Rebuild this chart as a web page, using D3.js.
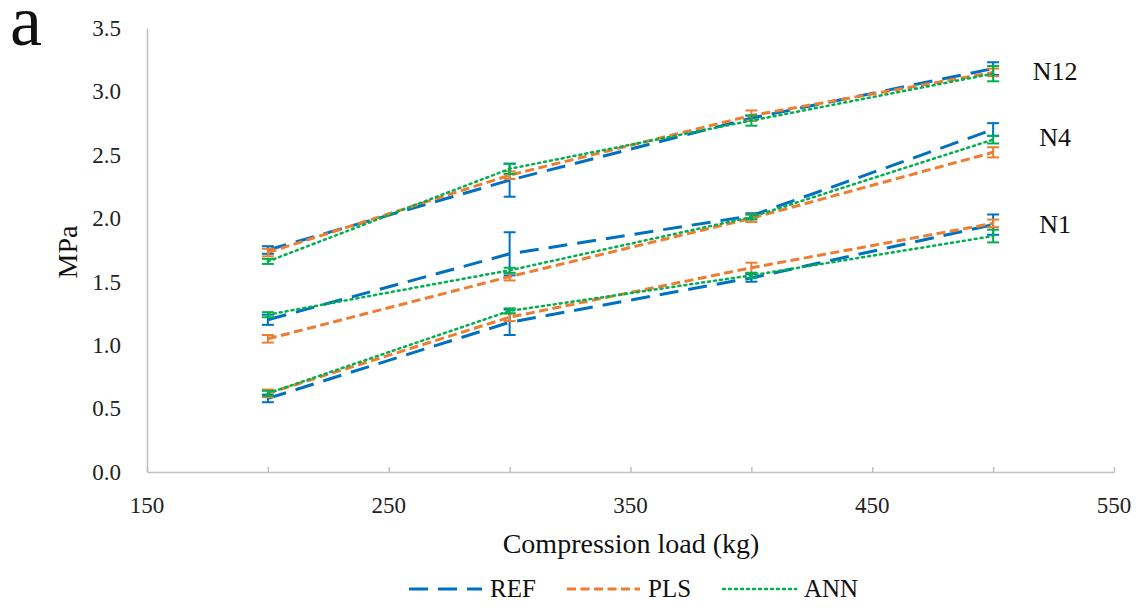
<!DOCTYPE html>
<html>
<head>
<meta charset="utf-8">
<script src="https://cdn.jsdelivr.net/npm/d3@7"></script>
<style>
  body { margin: 0; background: #fff; }
  svg text { font-family: "Liberation Serif", "DejaVu Serif", "Times New Roman", serif; }
</style>
</head>
<body>
<div id="chart"></div>
<script>
var width = 1141;
var height = 608;
var serif = "Liberation Serif, DejaVu Serif, serif";

// data
var loads = [200, 300, 400, 500];
var groups = ["N1", "N4", "N12"];
var xTicks = [150, 250, 350, 450, 550];
var yTicks = [0, 0.5, 1.0, 1.5, 2.0, 2.5, 3.0, 3.5];

var refN1 = [0.58, 1.18, 1.53, 1.95];
var refN1Err = [0.03, 0.10, 0.03, 0.08];
var plsN1 = [0.62, 1.22, 1.61, 1.96];
var plsN1Err = [0.03, 0.03, 0.04, 0.03];
var annN1 = [0.62, 1.27, 1.55, 1.86];
var annN1Err = [0.02, 0.02, 0.02, 0.05];

var refN4 = [1.20, 1.72, 2.02, 2.70];
var refN4Err = [0.04, 0.17, 0.02, 0.05];
var plsN4 = [1.05, 1.54, 2.00, 2.52];
var plsN4Err = [0.03, 0.03, 0.03, 0.04];
var annN4 = [1.24, 1.59, 2.01, 2.62];
var annN4Err = [0.02, 0.02, 0.02, 0.03];

var refN12 = [1.75, 2.30, 2.79, 3.18];
var refN12Err = [0.03, 0.13, 0.02, 0.05];
var plsN12 = [1.73, 2.34, 2.81, 3.15];
var plsN12Err = [0.03, 0.03, 0.04, 0.03];
var annN12 = [1.66, 2.39, 2.77, 3.14];
var annN12Err = [0.02, 0.04, 0.04, 0.06];

var groupLabelY = [1.95, 2.63, 3.15];

var models = [
    {name: "REF", color: "#0070C0", dash: "19,10", width: 3},
    {name: "PLS", color: "#ED7D31", dash: "9,4.5", width: 3},
    {name: "ANN", color: "#00B050", dash: "2,4", width: 2.5}
];

var seriesValues = {
    REF: [refN1, refN4, refN12],
    PLS: [plsN1, plsN4, plsN12],
    ANN: [annN1, annN4, annN12]
};
var seriesErrors = {
    REF: [refN1Err, refN4Err, refN12Err],
    PLS: [plsN1Err, plsN4Err, plsN12Err],
    ANN: [annN1Err, annN4Err, annN12Err]
};

var svg = d3.select("#chart").append("svg")
    .attr("width", width)
    .attr("height", height)
    .style("display", "block");

var xScale = d3.scaleLinear().domain([150, 550]).range([147, 1114]);
var yScale = d3.scaleLinear().domain([0, 3.5]).range([472, 28]);

// axes
var xAxis = d3.axisBottom(xScale)
    .tickValues(d3.range(150, 551, 50))
    .tickSizeInner(-5)
    .tickSizeOuter(0)
    .tickFormat("");
var gx = svg.append("g")
    .attr("transform", "translate(0," + yScale(0) + ")")
    .call(xAxis);
gx.select(".domain").attr("stroke", "#BFBFBF").attr("stroke-width", 1.5);
gx.selectAll(".tick line").attr("stroke", "#BFBFBF").attr("stroke-width", 1.5);

svg.append("g").selectAll("text")
    .data(xTicks).enter().append("text")
    .attr("x", function (d) { return xScale(d); })
    .attr("y", 513)
    .attr("text-anchor", "middle")
    .attr("font-family", serif)
    .attr("font-size", 23)
    .attr("fill", "#222")
    .text(function (d) { return d; });

var yAxis = d3.axisLeft(yScale)
    .tickValues(yTicks)
    .tickSize(0)
    .tickPadding(26)
    .tickFormat(d3.format(".1f"));
var gy = svg.append("g")
    .attr("transform", "translate(" + xScale(150) + ",0)")
    .attr("font-family", serif)
    .call(yAxis);
gy.select(".domain").attr("stroke", "#BFBFBF").attr("stroke-width", 1.5);
gy.selectAll(".tick text")
    .attr("font-family", serif)
    .attr("font-size", 23)
    .attr("fill", "#222");

// lines and error bars
var line = d3.line()
    .x(function (d) { return xScale(d.x); })
    .y(function (d) { return yScale(d.y); });

models.forEach(function (m) {
    var g = svg.append("g").attr("class", "model-" + m.name);
    groups.forEach(function (grp, gi) {
        var vals = seriesValues[m.name][gi];
        var errs = seriesErrors[m.name][gi];
        var pts = loads.map(function (l, i) {
            return {x: l, y: vals[i], e: errs[i]};
        });
        g.append("path")
            .datum(pts)
            .attr("d", line)
            .attr("fill", "none")
            .attr("stroke", m.color)
            .attr("stroke-width", m.width)
            .attr("stroke-dasharray", m.dash)
            .attr("stroke-linecap", m.name == "ANN" ? "round" : "butt");

        var bars = g.selectAll(".err-" + grp)
            .data(pts).enter().append("g");
        bars.append("line")
            .attr("x1", function (d) { return xScale(d.x); })
            .attr("x2", function (d) { return xScale(d.x); })
            .attr("y1", function (d) { return yScale(d.y - d.e); })
            .attr("y2", function (d) { return yScale(d.y + d.e); })
            .attr("stroke", m.color).attr("stroke-width", 2);
        [-1, 1].forEach(function (s) {
            bars.append("line")
                .attr("x1", function (d) { return xScale(d.x) - 6; })
                .attr("x2", function (d) { return xScale(d.x) + 6; })
                .attr("y1", function (d) { return yScale(d.y + s * d.e); })
                .attr("y2", function (d) { return yScale(d.y + s * d.e); })
                .attr("stroke", m.color).attr("stroke-width", 2);
        });
    });
});

// group labels
svg.append("g").selectAll("text")
    .data(groups).enter().append("text")
    .attr("x", xScale(500) + 62)
    .attr("y", function (d, i) { return yScale(groupLabelY[i]) + 8; })
    .attr("text-anchor", "middle")
    .attr("font-family", serif)
    .attr("font-size", 26)
    .attr("fill", "#111")
    .text(function (d) { return d; });

// titles
svg.append("text")
    .attr("x", 631).attr("y", 553)
    .attr("text-anchor", "middle")
    .attr("font-family", serif)
    .attr("font-size", 28)
    .attr("fill", "#111")
    .text("Compression load (kg)");

svg.append("text")
    .attr("transform", "translate(77,252) rotate(-90)")
    .attr("text-anchor", "middle")
    .attr("font-family", serif)
    .attr("font-size", 28)
    .attr("fill", "#111")
    .text("MPa");

svg.append("text")
    .attr("x", 10).attr("y", 45)
    .attr("font-family", serif)
    .attr("font-size", 72)
    .attr("fill", "#111")
    .text("a");

// legend
var legendX = [409, 567, 723];
var legend = svg.append("g").selectAll("g")
    .data(models).enter().append("g")
    .attr("transform", function (d, i) { return "translate(" + legendX[i] + ",589)"; });
legend.append("line")
    .attr("x1", 0).attr("x2", 73)
    .attr("stroke", function (d) { return d.color; })
    .attr("stroke-width", function (d) { return d.width; })
    .attr("stroke-dasharray", function (d) { return d.dash; })
    .attr("stroke-linecap", function (d) { return d.name == "ANN" ? "round" : "butt"; });
legend.append("text")
    .attr("x", 81).attr("y", 8)
    .attr("font-family", serif)
    .attr("font-size", 25)
    .attr("fill", "#111")
    .text(function (d) { return d.name; });
</script>
</body>
</html>
